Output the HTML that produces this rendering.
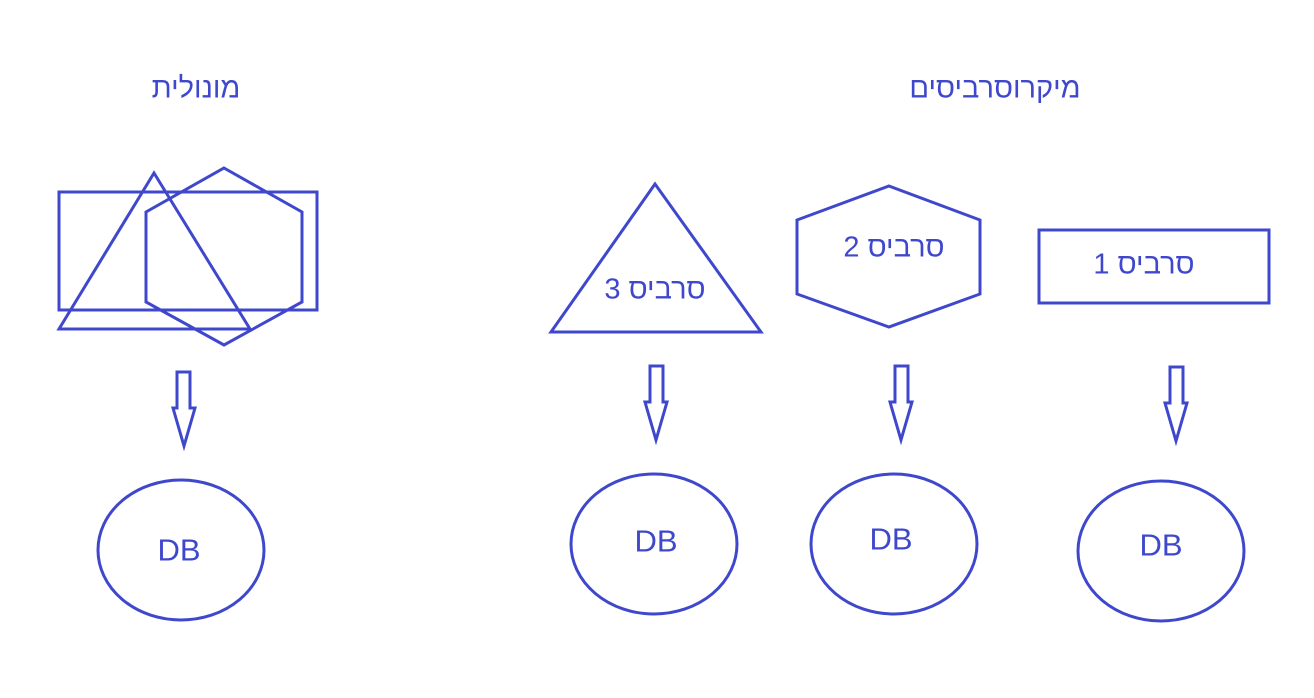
<!DOCTYPE html>
<html><head><meta charset="utf-8"><style>
html,body{margin:0;padding:0;background:#fff;}
#wrap{position:relative;width:1314px;height:698px;overflow:hidden;}
svg{position:absolute;left:0;top:0;}
.t{position:absolute;transform:translate(-50%,-50%);white-space:nowrap;color:#3F48CC;font-family:"Liberation Sans","DejaVu Sans",sans-serif;font-size:29px;line-height:1;}
.db{font-size:31px;}
</style></head><body>
<div id="wrap">
<svg width="1314" height="698" viewBox="0 0 1314 698" fill="none" stroke="#3F48CC" stroke-width="3">
<g>
<rect x="59" y="192" width="258" height="118"/>
<polygon points="154,173 250,329 59,329"/>
<polygon points="224,168 302,212 302,302 224,345 146,302 146,212"/>
</g>
<polygon points="655,184 761,332 551,332"/>
<polygon points="889,186 980,220 980,294 889,327 797,294 797,220"/>
<rect x="1039" y="230" width="230" height="73"/>
<polygon points="177,372 190,372 190,408 195,408 184,446 173,408 177,408"/>
<polygon points="650,366 663,366 663,402 667,402 656,440 645,402 650,402"/>
<polygon points="895,366 908,366 908,402 912,402 901,440 890,402 895,402"/>
<polygon points="1170,367 1183,367 1183,403 1187,403 1176,441 1165,403 1170,403"/>
<ellipse cx="181" cy="550" rx="83" ry="70"/>
<ellipse cx="654" cy="544" rx="83" ry="70"/>
<ellipse cx="894" cy="544" rx="83" ry="70"/>
<ellipse cx="1161" cy="551" rx="83" ry="70"/>
</svg>
<div class="t" dir="rtl" style="left:196px;top:89px">מונולית</div>
<div class="t" dir="rtl" style="left:995px;top:89px">מיקרוסרביסים</div>
<div class="t" dir="rtl" style="left:655px;top:290px">סרביס 3</div>
<div class="t" dir="rtl" style="left:894px;top:248px">סרביס 2</div>
<div class="t" dir="rtl" style="left:1144px;top:265px">סרביס 1</div>
<div class="t db" style="left:179px;top:550px">DB</div>
<div class="t db" style="left:656px;top:541px">DB</div>
<div class="t db" style="left:891px;top:539px">DB</div>
<div class="t db" style="left:1161px;top:545px">DB</div>
</div>
</body></html>
